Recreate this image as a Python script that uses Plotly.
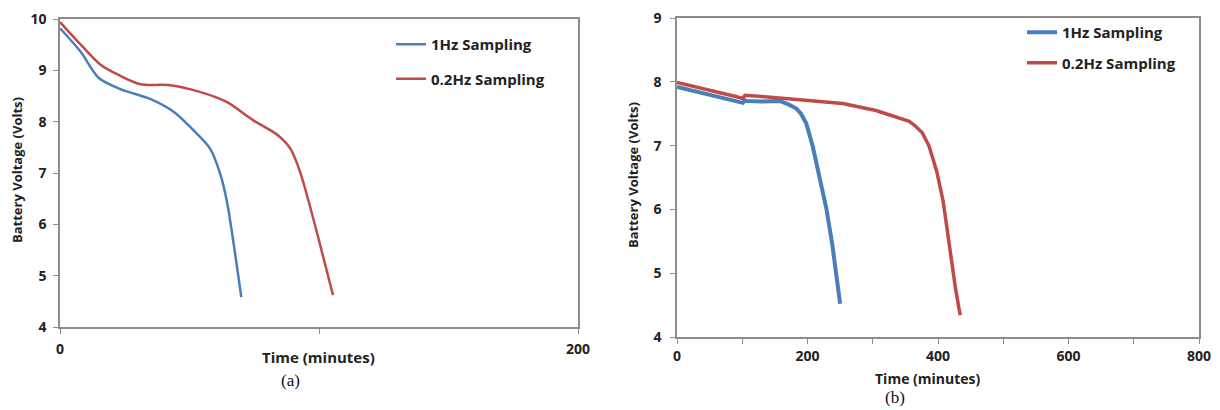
import plotly.graph_objects as go

# ---- Data: panel (a) ----
a_blue_t = [0, 8, 15, 23, 35, 44, 51, 58, 62, 64.5, 70]
a_blue_v = [9.82, 9.36, 8.85, 8.64, 8.44, 8.19, 7.86, 7.47, 6.96, 6.43, 4.58]
a_red_t = [0, 8, 15.4, 23, 31, 42.5, 54, 64.5, 74.5, 84, 89, 92.7, 105.4]
a_red_v = [9.94, 9.5, 9.12, 8.9, 8.73, 8.71, 8.58, 8.38, 8.03, 7.74, 7.47, 7.02, 4.62]

# ---- Data: panel (b) ----
b_blue_t = [0, 30, 60, 90, 101, 104, 107, 130, 157, 170, 183, 190, 198, 208, 218, 229, 238, 245, 250]
b_blue_v = [7.92, 7.85, 7.77, 7.7, 7.67, 7.71, 7.7, 7.69, 7.7, 7.65, 7.58, 7.5, 7.35, 6.99, 6.53, 6.01, 5.45, 4.95, 4.52]
b_red_t = [0, 30, 60, 90, 101, 104, 130, 152, 200, 254, 305, 340, 356, 366, 376, 386, 398, 408, 418, 427, 434]
b_red_v = [7.99, 7.92, 7.84, 7.77, 7.74, 7.79, 7.77, 7.75, 7.71, 7.66, 7.55, 7.43, 7.38, 7.3, 7.2, 7.0, 6.6, 6.12, 5.35, 4.75, 4.34]

series_names = ["1Hz Sampling", "0.2Hz Sampling"]
a_xticks = [0, 100, 200]
a_xticktext = ["0", "", "200"]
a_yticks = [4, 5, 6, 7, 8, 9, 10]
b_xticks = [0, 100, 200, 300, 400, 500, 600, 700, 800]
b_xticktext = ["0", "", "200", "", "400", "", "600", "", "800"]
b_yticks = [4, 5, 6, 7, 8, 9]

BLUE = "#4a7ebb"
RED = "#be4b48"
AXC = "#8c8c8c"
FONT = "Open Sans"
W, H = 1220, 410
OFF = 8  # page body offset


def px(x):
    return (x - OFF) / W


def py(y):
    return 1 - (y - OFF) / H


fig = go.Figure()
fig.add_trace(go.Scatter(x=a_blue_t, y=a_blue_v, mode="lines", name=series_names[0],
                         line=dict(color=BLUE, width=2.5, shape="spline", smoothing=0.8),
                         xaxis="x", yaxis="y", legend="legend", legendgroup="a1"))
fig.add_trace(go.Scatter(x=a_red_t, y=a_red_v, mode="lines", name=series_names[1],
                         line=dict(color=RED, width=2.5, shape="spline", smoothing=0.8),
                         xaxis="x", yaxis="y", legend="legend", legendgroup="a2"))
fig.add_trace(go.Scatter(x=b_blue_t, y=b_blue_v, mode="lines", name=series_names[0],
                         line=dict(color=BLUE, width=4),
                         xaxis="x2", yaxis="y2", legend="legend2", legendgroup="b1"))
fig.add_trace(go.Scatter(x=b_red_t, y=b_red_v, mode="lines", name=series_names[1],
                         line=dict(color=RED, width=3.5),
                         xaxis="x2", yaxis="y2", legend="legend2", legendgroup="b2"))

tickfont = dict(family=FONT, size=14, color="#222", weight="bold")
common = dict(showgrid=False, zeroline=False, showline=True, linecolor=AXC, linewidth=1.5,
              mirror=True, ticks="outside", ticklen=5, tickcolor=AXC, tickfont=tickfont,
              automargin=False, ticklabeloverflow="allow")

fig.update_layout(
    width=W, height=H, paper_bgcolor="white", plot_bgcolor="white",
    margin=dict(l=0, r=0, t=0, b=0, autoexpand=False),
    xaxis=dict(domain=[px(60), px(578)], range=[0, 200], tickvals=a_xticks, ticktext=a_xticktext,
               anchor="y", ticklabelstandoff=3, **common),
    yaxis=dict(domain=[py(327), py(19)], range=[4, 10], tickvals=a_yticks, anchor="x",
               ticklabelstandoff=4, **common),
    xaxis2=dict(domain=[px(677), px(1199)], range=[0, 800], tickvals=b_xticks, ticktext=b_xticktext,
                anchor="y2", ticklabelstandoff=0, **common),
    yaxis2=dict(domain=[py(337), py(18)], range=[4, 9], tickvals=b_yticks, anchor="x2",
                ticklabelstandoff=6, **common),
    legend=dict(x=px(391), y=py(28), xanchor="left", yanchor="top", bgcolor="rgba(0,0,0,0)",
                font=dict(family=FONT, size=15, color="#222", weight="bold"), tracegroupgap=12,
                itemwidth=30),
    legend2=dict(x=px(1022), y=py(16), xanchor="left", yanchor="top", bgcolor="rgba(0,0,0,0)",
                 font=dict(family=FONT, size=15, color="#222", weight="bold"), tracegroupgap=8,
                 itemwidth=30),
    showlegend=True,
)


def label(text, x, y, size, family=FONT, bold=True, angle=0, color="#222"):
    f = dict(family=family, size=size, color=color)
    if bold:
        f["weight"] = "bold"
    fig.add_annotation(text=text, xref="paper", yref="paper", x=px(x), y=py(y),
                       xanchor="center", yanchor="middle", textangle=angle,
                       showarrow=False, font=f)


label("Battery Voltage (Volts)", 17, 170, 13, angle=-90)
label("Time (minutes)", 318, 357, 15)
label("(a)", 290, 380, 17, family="Liberation Serif", bold=False, color="#111")
label("Battery Voltage (Volts)", 633, 175, 13, angle=-90)
label("Time (minutes)", 928, 378, 14)
label("(b)", 895, 397, 17, family="Liberation Serif", bold=False, color="#111")

fig.write_html("out.html")
